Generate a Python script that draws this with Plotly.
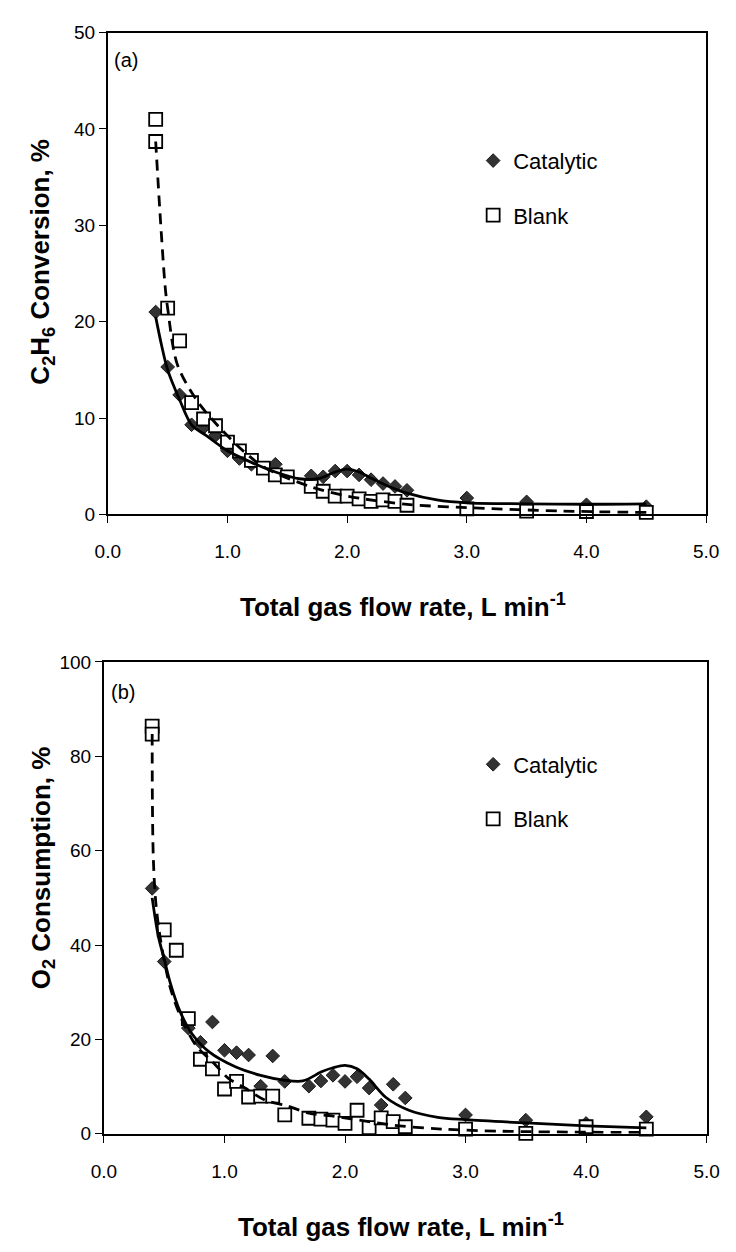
import plotly.graph_objects as go

# ---------------- data ----------------
# Panel (a): C2H6 conversion, %
flow_a_cat = [0.4, 0.5, 0.6, 0.7, 0.8, 0.9, 1.0, 1.1, 1.2, 1.3, 1.4, 1.5, 1.7, 1.8, 1.9, 2.0,
              2.1, 2.2, 2.3, 2.4, 2.5, 3.0, 3.5, 4.0, 4.5]
conv_cat = [21.0, 15.3, 12.4, 9.3, 9.0, 8.2, 6.6, 5.8, 5.2, 4.8, 5.2, 3.9, 4.0, 3.9, 4.5, 4.5,
            4.1, 3.6, 3.2, 2.9, 2.5, 1.7, 1.3, 1.0, 0.8]
flow_a_blank = [0.4, 0.4, 0.5, 0.6, 0.7, 0.8, 0.9, 1.0, 1.1, 1.2, 1.3, 1.4, 1.5, 1.7, 1.8, 1.9,
                2.0, 2.1, 2.2, 2.3, 2.4, 2.5, 3.0, 3.5, 4.0, 4.5]
conv_blank = [41.0, 38.7, 21.4, 18.0, 11.6, 9.9, 9.2, 7.5, 6.6, 5.6, 4.8, 4.1, 3.9, 2.9, 2.4, 1.9,
              1.9, 1.6, 1.35, 1.5, 1.35, 0.95, 0.57, 0.34, 0.3, 0.2]
# trend lines (a)
fit_a_cat_x = [0.40, 0.45, 0.50, 0.60, 0.70, 0.82, 1.00, 1.20, 1.40, 1.60, 1.76, 1.90, 2.00,
               2.10, 2.21, 2.35, 2.50, 2.75, 3.00, 3.50, 4.00, 4.50]
fit_a_cat_y = [20.5, 17.5, 15.0, 11.9, 9.3, 8.2, 6.6, 5.4, 4.4, 3.7, 3.7, 4.4, 4.7,
               4.4, 3.7, 2.9, 2.2, 1.5, 1.2, 1.1, 1.05, 1.1]
fit_a_blank_x = [0.40, 0.44, 0.48, 0.50, 0.58, 0.74, 0.92, 1.14, 1.32, 1.69, 2.00, 2.50, 3.00,
                 3.80, 4.50]
fit_a_blank_y = [38.7, 30.5, 23.5, 21.4, 15.6, 11.9, 9.2, 6.5, 4.8, 2.9, 1.9, 1.05, 0.7,
                 0.35, 0.2]

# Panel (b): O2 consumption, %
flow_b_cat = [0.4, 0.5, 0.7, 0.8, 0.9, 1.0, 1.1, 1.2, 1.3, 1.4, 1.5, 1.7, 1.8, 1.9, 2.0, 2.1,
              2.2, 2.3, 2.4, 2.5, 3.0, 3.5, 4.0, 4.5]
o2_cat = [52.0, 36.5, 22.4, 19.4, 23.7, 17.7, 17.2, 16.7, 10.1, 16.5, 11.1, 10.1, 11.2, 12.4,
          11.1, 12.1, 9.7, 6.1, 10.5, 7.6, 4.0, 2.9, 2.2, 3.6]
flow_b_blank = [0.4, 0.4, 0.5, 0.6, 0.7, 0.8, 0.9, 1.0, 1.1, 1.2, 1.3, 1.4, 1.5, 1.7, 1.8, 1.9,
                2.0, 2.1, 2.2, 2.3, 2.4, 2.5, 3.0, 3.5, 4.0, 4.5]
o2_blank = [86.4, 84.7, 43.2, 38.9, 24.4, 15.8, 13.75, 9.5, 11.1, 7.8, 8.0, 8.0, 4.0, 3.3, 3.1,
            2.9, 2.2, 5.0, 1.3, 3.4, 2.6, 1.5, 1.0, 0.1, 1.5, 1.0]
# trend lines (b)
fit_b_cat_x = [0.40, 0.45, 0.50, 0.55, 0.63, 0.73, 0.87, 1.09, 1.30, 1.49, 1.65, 1.81, 1.90,
               2.00, 2.10, 2.20, 2.34, 2.53, 2.77, 3.00, 3.50, 4.00, 4.50]
fit_b_cat_y = [50.0, 42.0, 37.0, 32.0, 26.0, 21.2, 17.4, 14.2, 12.4, 11.4, 11.2, 13.2, 14.0,
               14.5, 13.8, 11.6, 7.7, 5.0, 3.5, 3.0, 2.3, 1.7, 1.25]
fit_b_blank_x = [0.40, 0.402, 0.41, 0.43, 0.47, 0.55, 0.65, 0.77, 0.90, 1.03, 1.17, 1.34, 1.52,
                 1.70, 1.89, 2.25, 2.45, 2.80, 3.30, 4.00, 4.50]
fit_b_blank_y = [84.7, 70.0, 58.0, 49.0, 41.0, 31.0, 24.0, 18.5, 15.3, 11.8, 9.7, 7.1, 5.9,
                 4.4, 3.8, 2.4, 1.7, 1.0, 0.55, 0.35, 0.3]

x_ticks = [0, 1, 2, 3, 4, 5]
x_tick_labels = ["0.0", "1.0", "2.0", "3.0", "4.0", "5.0"]

# ---------------- figure ----------------
W, H = 736, 1252
FONT = "Liberation Sans, Arial, Helvetica, sans-serif"
DIAMOND = dict(symbol="diamond", size=10.5, color="#333333", line=dict(color="#1a1a1a", width=1))
SQUARE = dict(symbol="square", size=13, color="white", line=dict(color="black", width=1.8))
SOLID = dict(color="black", width=2.8, shape="spline", smoothing=0.9)
DASHED = dict(color="black", width=2.8, dash="11px,7px", shape="spline", smoothing=0.9)

fig = go.Figure()

def add_panel(xa, ya, leg, cx, cy, bx, by, fcx, fcy, fbx, fby):
    fig.add_trace(go.Scatter(x=cx, y=cy, mode="markers", marker=DIAMOND, name="Catalytic",
                             xaxis=xa, yaxis=ya, legend=leg, legendgroup=leg + "c",
                             cliponaxis=False))
    fig.add_trace(go.Scatter(x=bx, y=by, mode="markers", marker=SQUARE, name="Blank",
                             xaxis=xa, yaxis=ya, legend=leg, legendgroup=leg + "b",
                             cliponaxis=False))
    fig.add_trace(go.Scatter(x=fcx, y=fcy, mode="lines", line=SOLID, showlegend=False,
                             xaxis=xa, yaxis=ya, hoverinfo="skip"))
    fig.add_trace(go.Scatter(x=fbx, y=fby, mode="lines", line=DASHED, showlegend=False,
                             xaxis=xa, yaxis=ya, hoverinfo="skip"))

add_panel("x", "y", "legend", flow_a_cat, conv_cat, flow_a_blank, conv_blank,
          fit_a_cat_x, fit_a_cat_y, fit_a_blank_x, fit_a_blank_y)
add_panel("x2", "y2", "legend2", flow_b_cat, o2_cat, flow_b_blank, o2_blank,
          fit_b_cat_x, fit_b_cat_y, fit_b_blank_x, fit_b_blank_y)

def px_x(p):
    return p / W

def px_y(p):
    return (H - p) / H

axis_common = dict(showgrid=False, zeroline=False, showline=True, linecolor="black",
                   linewidth=2, mirror=True, ticks="outside", ticklen=7, tickwidth=1,
                   tickcolor="black", tickfont=dict(family=FONT, size=19, color="black"))

legend_font = dict(family=FONT, size=22, color="black")
fig.update_layout(
    width=W, height=H,
    margin=dict(l=0, r=0, t=0, b=0),
    paper_bgcolor="white", plot_bgcolor="white",
    font=dict(family=FONT, color="black"),
    xaxis=dict(domain=[px_x(98.3), px_x(718.5)], range=[0, 5], anchor="y",
               tickvals=x_ticks, ticktext=x_tick_labels, ticklabelstandoff=12, **axis_common),
    yaxis=dict(domain=[px_y(513), px_y(23)], range=[0, 50], anchor="x",
               tickvals=[0, 10, 20, 30, 40, 50], **axis_common),
    xaxis2=dict(domain=[px_x(94.3), px_x(719)], range=[0, 5], anchor="y2",
                tickvals=x_ticks, ticktext=x_tick_labels, ticklabelstandoff=12, **axis_common),
    yaxis2=dict(domain=[px_y(1143), px_y(663)], range=[0, 100], anchor="x2",
                tickvals=[0, 20, 40, 60, 80, 100], **axis_common),
    legend=dict(x=px_x(477), y=px_y(132), xanchor="left", yanchor="top",
                font=legend_font, bgcolor="rgba(0,0,0,0)",
                traceorder="grouped", tracegroupgap=23),
    legend2=dict(x=px_x(477), y=px_y(746), xanchor="left", yanchor="top",
                 font=legend_font, bgcolor="rgba(0,0,0,0)",
                 traceorder="grouped", tracegroupgap=23),
    showlegend=True,
)

title_font = dict(family=FONT, size=26, color="black")
annotations = [
    dict(text="<b>C<sub>2</sub>H<sub>6</sub> Conversion, %</b>", x=px_x(30), y=px_y(256),
         textangle=-90, font=title_font),
    dict(text="<b>O<sub>2</sub> Consumption, %</b>", x=px_x(30), y=px_y(872),
         textangle=-90, font=title_font),
    dict(text="<b>Total gas flow rate, L min<sup>-1</sup></b>", x=px_x(404), y=px_y(606),
         font=title_font),
    dict(text="<b>Total gas flow rate, L min<sup>-1</sup></b>", x=px_x(402), y=px_y(1236),
         font=title_font),
    dict(text="(a)", x=px_x(103), y=px_y(51), xanchor="left",
         font=dict(family=FONT, size=20, color="black")),
    dict(text="(b)", x=px_x(99), y=px_y(694), xanchor="left",
         font=dict(family=FONT, size=20, color="black")),
]
for a in annotations:
    a.setdefault("xanchor", "center")
    a.update(xref="paper", yref="paper", yanchor="middle", showarrow=False)
fig.update_layout(annotations=annotations)

fig.write_html("out.html")
